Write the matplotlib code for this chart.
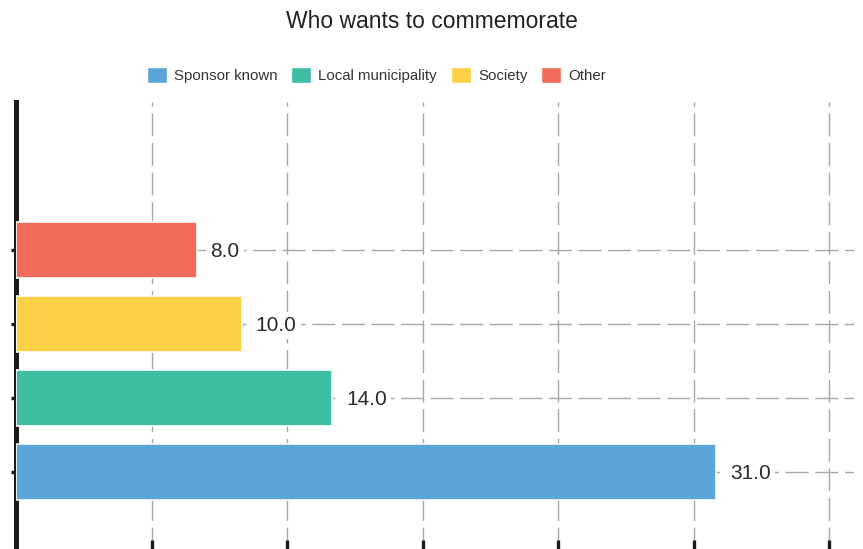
#!/usr/bin/env python3

import matplotlib
matplotlib.use('Agg')
import matplotlib.pyplot as plt
from matplotlib.patches import Patch

# data
categories = ['Sponsor known', 'Local municipality', 'Society', 'Other']
counts = [31.0, 14.0, 10.0, 8.0]
colors = ['#5ba5d9', '#3ebfa3', '#fbd044', '#f26b5b']
grid_ticks = [0, 6, 12, 18, 24, 30, 36]

plt.rcParams['font.family'] = ['Liberation Sans', 'DejaVu Sans']

W, H = 863, 549
fig = plt.figure(figsize=(W / 100, H / 100), dpi=100)

# axes box in pixels: left 16, right 854, top 102, bottom 557 (runs past the figure edge)
left, right, top, bottom = 16, 854, 102, 557
ax = fig.add_axes([left / W, 1 - bottom / H, (right - left) / W, (bottom - top) / H])

ypos = list(range(len(categories)))
ax.barh(ypos, counts, height=0.76, color=colors, edgecolor='white', linewidth=1.2, zorder=3)

# value labels on a white box so the grid line stops around them
for y, v in zip(ypos, counts):
    ax.annotate(f'{v:.1f}', xy=(v, y), xytext=(10, -1.2), textcoords='offset points',
                ha='left', va='center', fontsize=15, color='#2b2b2b', zorder=4,
                bbox=dict(boxstyle='square,pad=0.2', fc='white', ec='none'))

ax.set_xlim(0, 37.1)
ax.set_ylim(-1.15, 5)
ax.set_xticks(grid_ticks)
ax.set_yticks(ypos)
ax.set_xticklabels([])
ax.set_yticklabels([])

ax.grid(True, color='#a6a6a6', linewidth=1.0, linestyle=(0, (16.5, 4.8)), zorder=0)
ax.set_axisbelow(True)

for s in ['top', 'right']:
    ax.spines[s].set_visible(False)
ax.spines['left'].set_linewidth(3.6)
ax.spines['left'].set_color('#1a1a1a')
ax.spines['bottom'].set_linewidth(2)
ax.spines['bottom'].set_color('#1a1a1a')

ax.tick_params(axis='y', direction='out', length=3.5, width=2.4, color='#1a1a1a')
ax.tick_params(axis='x', direction='in', length=12, width=2.4, color='#1a1a1a')

fig.text(0.5, 1 - 21 / H, 'Who wants to commemorate', ha='center', va='center',
         fontsize=16.5, color='#222222')

handles = [Patch(facecolor=c, edgecolor='white', label=l) for c, l in zip(colors, categories)]
fig.legend(handles=handles, loc='center', bbox_to_anchor=(376.5 / W, 1 - 75 / H),
           ncol=4, frameon=False, fontsize=10.8, labelcolor='#333333',
           handlelength=1.33, handleheight=1.27, handletextpad=0.47,
           columnspacing=0.93, borderpad=0, borderaxespad=0)

plt.savefig('out.png', dpi=100)
plt.close()
